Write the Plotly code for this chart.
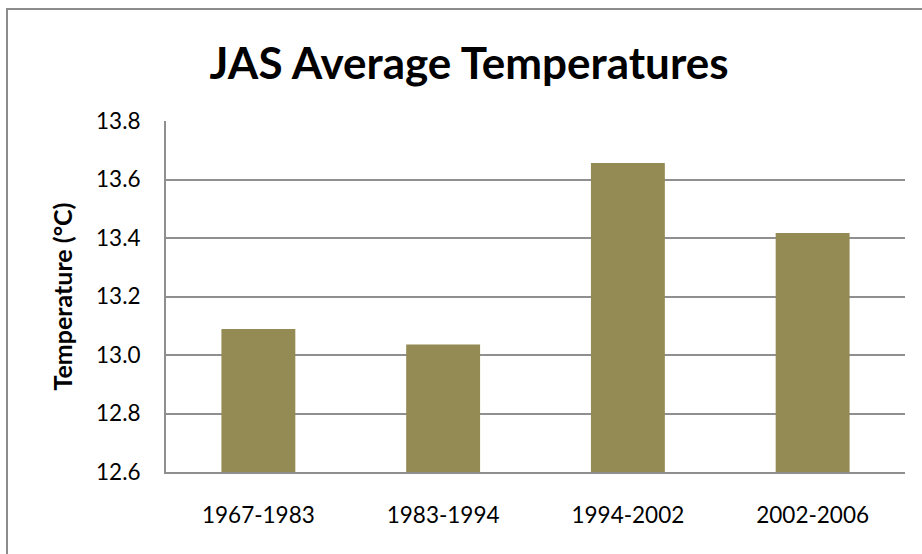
import plotly.graph_objects as go

categories = ["1967-1983", "1983-1994", "1994-2002", "2002-2006"]
temperatures = [13.089, 13.036, 13.656, 13.417]
y_ticks = [12.6, 12.8, 13.0, 13.2, 13.4, 13.6, 13.8]

W, H = 922, 554
L, R, T, B = 166, 17, 121, 82
pw, ph = W - L - R, H - T - B

def px(xp):
    return (xp - L) / pw

def py(yp):
    return (H - B - yp) / ph

GRID = "#8f8f8f"
FONT = "Lato"

fig = go.Figure(go.Bar(
    x=categories, y=temperatures,
    marker=dict(color="#948A54", line=dict(width=0)),
    width=0.4,
))

fig.update_layout(
    width=W, height=H,
    margin=dict(l=L, r=R, t=T, b=B),
    paper_bgcolor="white", plot_bgcolor="white",
    showlegend=False,
    font=dict(family=FONT, color="black"),
    title=dict(text="<b>JAS Average Temperatures</b>", x=469 / W, xanchor="center",
               y=1 - 64 / H, yanchor="middle", yref="container",
               font=dict(family=FONT, size=44, color="black")),
    xaxis=dict(showgrid=False, showline=True, linecolor=GRID, linewidth=2,
               ticks="", tickfont=dict(size=22.5), ticklabelstandoff=22),
    yaxis=dict(range=[12.6, 13.8], tickvals=y_ticks, ticktext=[f"{v:.1f}" for v in y_ticks],
               showgrid=True, gridcolor=GRID, gridwidth=2,
               showline=True, linecolor=GRID, linewidth=2, ticks="",
               tickfont=dict(size=22.5), ticklabelstandoff=19, zeroline=False),
    annotations=[dict(text="<b>Temperature (°C)</b>", x=px(61), y=0.5, xref="paper", yref="paper",
                      textangle=-90, showarrow=False, xanchor="center", yanchor="middle",
                      font=dict(family=FONT, size=25, color="black"))],
    shapes=[dict(type="rect", xref="paper", yref="paper",
                 x0=px(7), x1=px(940), y0=py(570), y1=py(9),
                 line=dict(color="#8c8c8c", width=2), layer="below")],
)

fig.write_html("out.html", config={"displayModeBar": False},
               post_script="document.body.style.margin='0';document.body.style.overflow='hidden';")
